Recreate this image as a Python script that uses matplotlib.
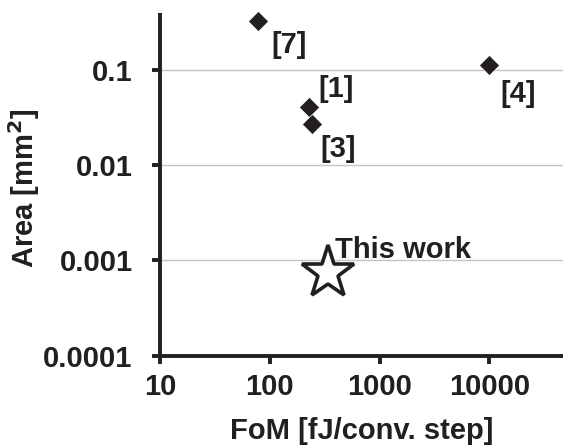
import matplotlib
matplotlib.use("Agg")
import matplotlib.pyplot as plt

# data
refs = ["[7]", "[1]", "[3]", "[4]"]
fom = [78, 228, 244, 10000]          # fJ/conv. step
area = [0.327, 0.0412, 0.0269, 0.113]  # mm^2
this_fom = 337
this_area = 0.00073

x_ticks = [10, 100, 1000, 10000]
x_ticklabels = ["10", "100", "1000", "10000"]
y_ticks = [0.0001, 0.001, 0.01, 0.1]
y_ticklabels = ["0.0001", "0.001", "0.01", "0.1"]

# label offsets (points) relative to each marker
offsets = [(9.5, -23.3), (7.0, 6.8), (5.5, -23.3), (8.0, -26.4)]

ink = "#231f20"
plt.rcParams["font.family"] = ["Liberation Sans", "DejaVu Sans"]
plt.rcParams["font.weight"] = "bold"

fig = plt.figure(figsize=(5.63, 4.46), dpi=100)
ax = fig.add_axes([0.2842, 0.2025, 0.7158, 0.7684])

ax.set_xscale("log")
ax.set_yscale("log")
ax.set_xlim(10, 10 ** 4.67)
ax.set_ylim(1e-4, 10 ** -0.401)

for y in y_ticks[1:]:
    ax.axhline(y, color="#c4c4c4", lw=1.0, zorder=1)

ax.plot(fom, area, "D", ms=10.3, color=ink, mec="white", mew=0.4, zorder=3,
        clip_on=False)
ax.plot([this_fom], [this_area], "*", ms=40, mfc="white", mec=ink, mew=2.6,
        zorder=3, clip_on=False)

for name, x, y, off in zip(refs, fom, area, offsets):
    ax.annotate(name, (x, y), xytext=off, textcoords="offset points",
                ha="left", va="baseline", fontsize=21, fontweight="bold",
                color=ink)
ax.annotate("This work", (this_fom, this_area), xytext=(5.5, 11.2),
            textcoords="offset points", ha="left", va="baseline",
            fontsize=21, fontweight="bold", color=ink)

ax.set_xticks(x_ticks)
ax.set_xticklabels(x_ticklabels)
ax.set_yticks(y_ticks)
ax.set_yticklabels(y_ticklabels)
ax.minorticks_off()
ax.tick_params(axis="both", length=5.8, width=2.8, color=ink, labelsize=21,
               labelcolor=ink)
ax.tick_params(axis="x", pad=7)
ax.tick_params(axis="y", pad=14)

for side in ["top", "right"]:
    ax.spines[side].set_visible(False)
for side in ["left", "bottom"]:
    ax.spines[side].set_linewidth(2.8)
    ax.spines[side].set_color(ink)
    ax.spines[side].set_capstyle("butt")

ax.set_xlabel("FoM [fJ/conv. step]", fontsize=21, fontweight="bold", color=ink)
ax.set_ylabel("Area [mm$^\\mathbf{2}$]", fontsize=21, fontweight="bold",
              color=ink)
ax.xaxis.set_label_coords(0.5, -0.178)
ax.yaxis.set_label_coords(-0.292, 0.49)

fig.savefig("out.png", dpi=100)
